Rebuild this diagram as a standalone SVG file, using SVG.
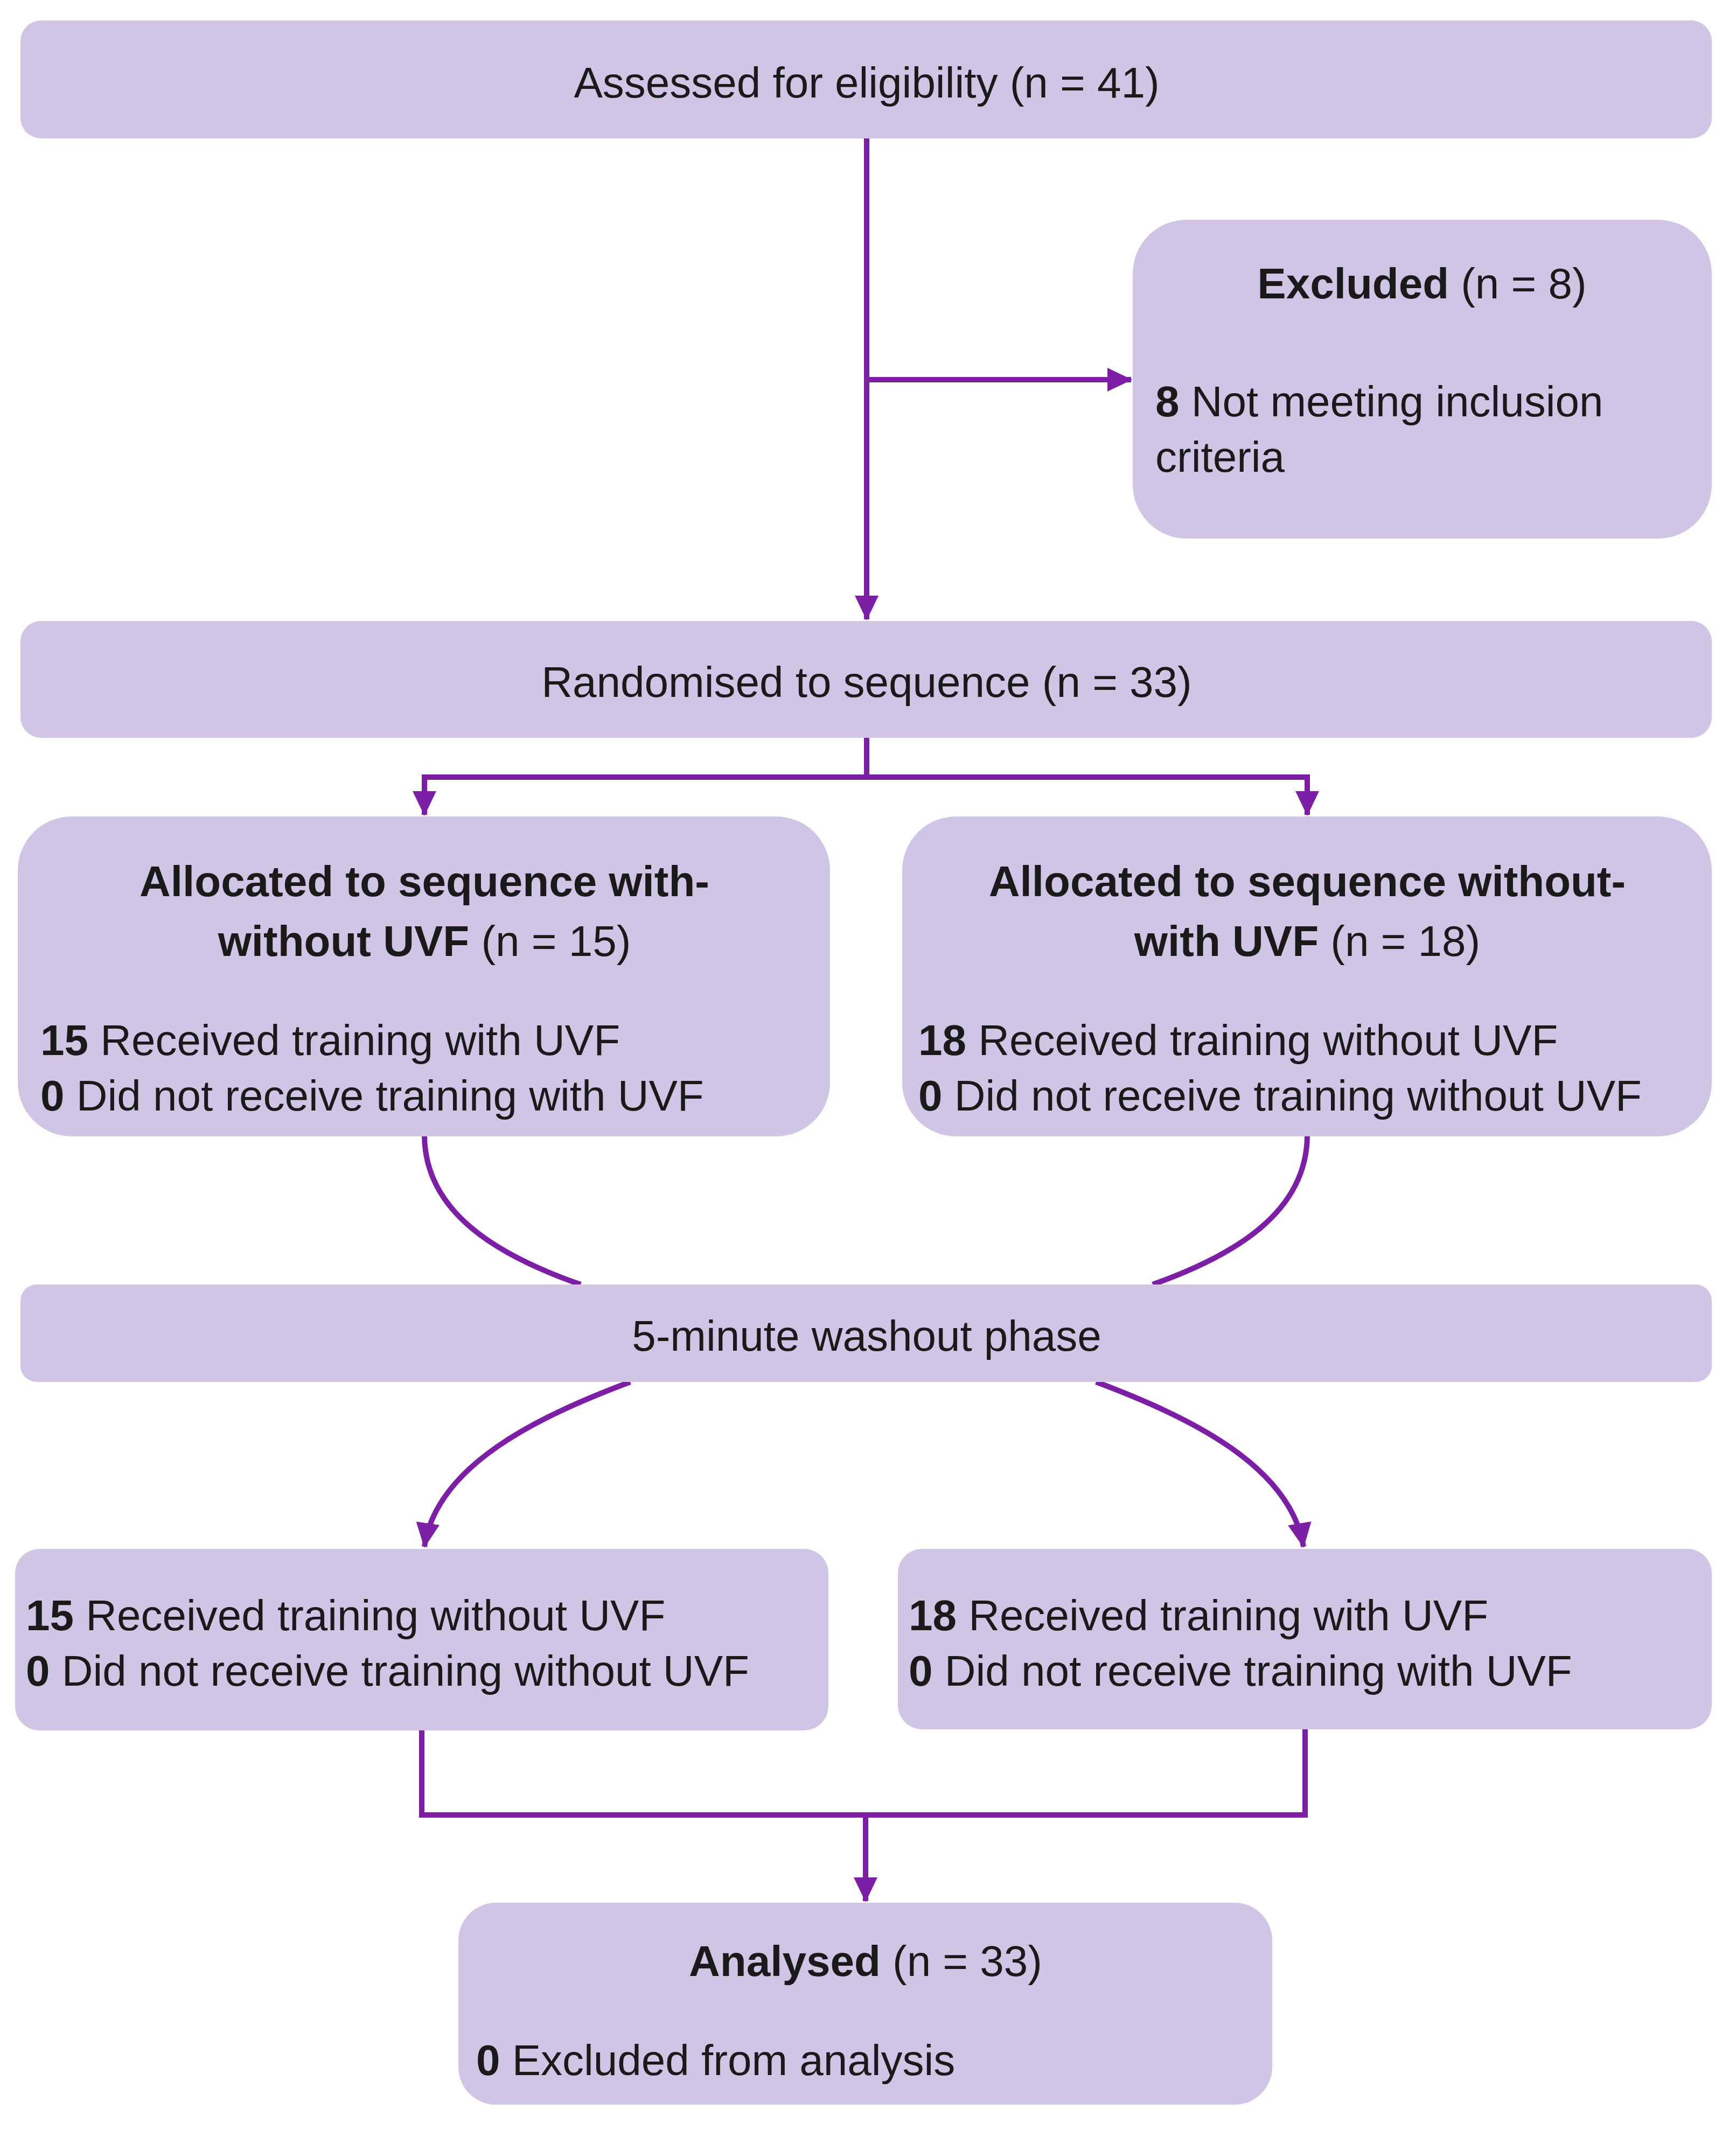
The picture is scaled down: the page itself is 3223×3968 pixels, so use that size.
<svg xmlns="http://www.w3.org/2000/svg" width="3223" height="3968" viewBox="0 0 3223 3968">
<style>
.b{fill:#d1c5e6}
.t{font-family:"Liberation Sans",Arial,sans-serif;font-size:80px;fill:#1a1a1a}
.c{text-anchor:middle}
.k{font-weight:bold}
.l{fill:none;stroke:#7d1fa6;stroke-width:10}
</style>
<defs>
<marker id="a" markerUnits="userSpaceOnUse" markerWidth="50" markerHeight="50" refX="44" refY="22" orient="auto" viewBox="0 0 50 44">
<path d="M0,0L46,22L0,44Z" fill="#7d1fa6"/>
</marker>
</defs>
<rect width="3223" height="3968" fill="#fff"/>
<g id="connectors">
<path class="l" d="M1609,257V1150" marker-end="url(#a)"/>
<path class="l" d="M1609,705H2100" marker-end="url(#a)"/>
<path class="l" d="M1609,1370V1443M788,1443H2427M788,1438V1513" marker-end="url(#a)"/>
<path class="l" d="M2427,1438V1513" marker-end="url(#a)"/>
<path class="l" d="M788,2110C790,2250 920,2330 1078,2385"/>
<path class="l" d="M2427,2110C2425,2250 2295,2330 2140,2385"/>
<path class="l" d="M1170,2566C1000,2630 810,2720 788,2872" marker-end="url(#a)"/>
<path class="l" d="M2035,2566C2205,2630 2395,2720 2420,2872" marker-end="url(#a)"/>
<path class="l" d="M783,3213V3370H2423V3211M1607,3370V3530" marker-end="url(#a)"/>
</g>
<g id="assessed"><rect class="b" x="38" y="38" width="3140" height="219" rx="38"/>
<text class="t c" x="1609" y="181">Assessed for eligibility (n = 41)</text></g>
<g id="excluded"><rect class="b" x="2103" y="408" width="1075" height="592" rx="100"/>
<text class="t c" x="2640" y="554"><tspan class="k">Excluded</tspan> (n = 8)</text>
<text class="t" x="2145" y="773"><tspan class="k">8</tspan> Not meeting inclusion</text>
<text class="t" x="2145" y="876">criteria</text></g>
<g id="randomised"><rect class="b" x="38" y="1153" width="3140" height="217" rx="38"/>
<text class="t c" x="1609" y="1294">Randomised to sequence (n = 33)</text></g>
<g id="allocLeft"><rect class="b" x="33" y="1516" width="1508" height="594" rx="100"/>
<text class="t c k" x="788" y="1664">Allocated to sequence with-</text>
<text class="t c" x="788" y="1775"><tspan class="k">without UVF</tspan> (n = 15)</text>
<text class="t" x="75" y="1959"><tspan class="k">15</tspan> Received training with UVF</text>
<text class="t" x="75" y="2062"><tspan class="k">0</tspan> Did not receive training with UVF</text></g>
<g id="allocRight"><rect class="b" x="1675" y="1516" width="1503" height="594" rx="100"/>
<text class="t c k" x="2427" y="1664">Allocated to sequence without-</text>
<text class="t c" x="2427" y="1775"><tspan class="k">with UVF</tspan> (n = 18)</text>
<text class="t" x="1705" y="1959"><tspan class="k">18</tspan> Received training without UVF</text>
<text class="t" x="1705" y="2062"><tspan class="k">0</tspan> Did not receive training without UVF</text></g>
<g id="washout"><rect class="b" x="38" y="2385" width="3140" height="181" rx="30"/>
<text class="t c" x="1609" y="2508">5-minute washout phase</text></g>
<g id="secondLeft"><rect class="b" x="28" y="2876" width="1510" height="337" rx="45"/>
<text class="t" x="48" y="3027"><tspan class="k">15</tspan> Received training without UVF</text>
<text class="t" x="48" y="3130"><tspan class="k">0</tspan> Did not receive training without UVF</text></g>
<g id="secondRight"><rect class="b" x="1667" y="2876" width="1511" height="335" rx="45"/>
<text class="t" x="1687" y="3027"><tspan class="k">18</tspan> Received training with UVF</text>
<text class="t" x="1687" y="3130"><tspan class="k">0</tspan> Did not receive training with UVF</text></g>
<g id="analysed"><rect class="b" x="851" y="3533" width="1511" height="375" rx="70"/>
<text class="t c" x="1607" y="3669"><tspan class="k">Analysed</tspan> (n = 33)</text>
<text class="t" x="884" y="3853"><tspan class="k">0</tspan> Excluded from analysis</text></g>
</svg>
